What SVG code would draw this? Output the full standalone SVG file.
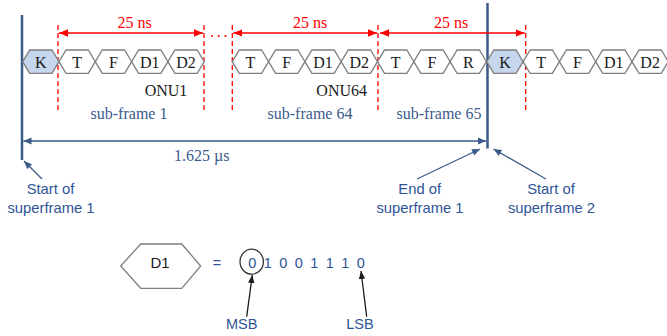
<svg xmlns="http://www.w3.org/2000/svg" xmlns:xlink="http://www.w3.org/1999/xlink" width="667" height="336" viewBox="0 0 667 336">
<defs>
<style>
.hx{fill:#ffffff;stroke:#7f7f7f;stroke-width:1.3}
.hk{fill:#c6d6ec;stroke:#7f7f7f;stroke-width:1.3}
.lb{font-family:"Liberation Serif","Times New Roman",serif;font-size:16px;fill:#1a1a1a;text-anchor:middle}
.red{font-family:"Liberation Serif","Times New Roman",serif;font-size:16px;fill:#ff0000;text-anchor:middle}
.sf{font-family:"Liberation Serif","Times New Roman",serif;font-size:16px;fill:#3b5b8c;text-anchor:middle}
.ann{font-family:"Liberation Sans",Arial,sans-serif;font-size:14.8px;fill:#2f5597;text-anchor:middle}
.bit{font-family:"Liberation Sans",Arial,sans-serif;font-size:14.5px;fill:#2f5597}
.dash{stroke:#ff0000;stroke-width:1.3;stroke-dasharray:5 3;fill:none}
.rarr{stroke:#ff0000;stroke-width:1.4;fill:none}
.barr{stroke:#3a5a88;stroke-width:1.3;fill:none}
.bbar{stroke:#3a5a88;stroke-width:2.5;fill:none}
.karr{stroke:#1a1a1a;stroke-width:1.3;fill:none}
</style>
<polygon id="hex" points="-18.15,0 -11.15,-11.7 11.15,-11.7 18.15,0 11.15,11.7 -11.15,11.7"/>
<marker id="mr" markerUnits="userSpaceOnUse" markerWidth="10" markerHeight="8" refX="9" refY="4" orient="auto-start-reverse"><path d="M0,0.3 L9,4 L0,7.7 z" fill="#ff0000"/></marker>
<marker id="mb" markerUnits="userSpaceOnUse" markerWidth="10" markerHeight="8" refX="8" refY="4" orient="auto-start-reverse"><path d="M0,0.5 L8,4 L0,7.5 z" fill="#3a5a88"/></marker>
<marker id="mk" markerUnits="userSpaceOnUse" markerWidth="10" markerHeight="8" refX="8" refY="4" orient="auto"><path d="M0,0.8 L8,4 L0,7.2 z" fill="#1a1a1a"/></marker>
</defs>
<rect width="667" height="336" fill="#ffffff"/>

<g id="connectors">
<line class="bbar" x1="22" y1="15" x2="22" y2="160"/>
<line class="bbar" x1="487.5" y1="3" x2="487.5" y2="148.5"/>
<line class="dash" x1="58" y1="25" x2="58" y2="110"/>
<line class="dash" x1="204" y1="25" x2="204" y2="110"/>
<line class="dash" x1="232.3" y1="25" x2="232.3" y2="110"/>
<line class="dash" x1="378" y1="25" x2="378" y2="110"/>
<line class="dash" x1="525.7" y1="25" x2="525.7" y2="110"/>
<line class="rarr" x1="59" y1="33" x2="203" y2="33" marker-start="url(#mr)" marker-end="url(#mr)"/>
<line class="rarr" x1="233.3" y1="33" x2="377" y2="33" marker-start="url(#mr)" marker-end="url(#mr)"/>
<line class="rarr" x1="380" y1="33" x2="524.7" y2="33" marker-start="url(#mr)" marker-end="url(#mr)"/>
<line class="barr" x1="23.5" y1="141" x2="486" y2="141" marker-start="url(#mb)" marker-end="url(#mb)"/>
<line class="barr" x1="42" y1="179" x2="24" y2="161" marker-end="url(#mb)"/>
<line class="barr" x1="417" y1="179" x2="480" y2="149" marker-end="url(#mb)"/>
<line class="barr" x1="546" y1="179" x2="493.5" y2="149" marker-end="url(#mb)"/>
<line class="karr" x1="246.7" y1="316.7" x2="252.3" y2="275" marker-end="url(#mk)"/>
<line class="karr" x1="366.7" y1="316.7" x2="361" y2="271" marker-end="url(#mk)"/>
</g>

<g id="frame-row">
<g id="k1"><use xlink:href="#hex" class="hk" x="40.85" y="61.7"/><text class="lb" x="40.85" y="67.5">K</text></g>
<g id="t1"><use xlink:href="#hex" class="hx" x="77.15" y="61.7"/><text class="lb" x="77.15" y="67.5">T</text></g>
<g id="f1"><use xlink:href="#hex" class="hx" x="113.45" y="61.7"/><text class="lb" x="113.45" y="67.5">F</text></g>
<g id="d1a"><use xlink:href="#hex" class="hx" x="149.75" y="61.7"/><text class="lb" x="149.75" y="67.5">D1</text></g>
<g id="d2a"><use xlink:href="#hex" class="hx" x="186.05" y="61.7"/><text class="lb" x="186.05" y="67.5">D2</text></g>
<g id="t64"><use xlink:href="#hex" class="hx" x="250.45" y="61.7"/><text class="lb" x="250.45" y="67.5">T</text></g>
<g id="f64"><use xlink:href="#hex" class="hx" x="286.75" y="61.7"/><text class="lb" x="286.75" y="67.5">F</text></g>
<g id="d1b"><use xlink:href="#hex" class="hx" x="323.05" y="61.7"/><text class="lb" x="323.05" y="67.5">D1</text></g>
<g id="d2b"><use xlink:href="#hex" class="hx" x="359.35" y="61.7"/><text class="lb" x="359.35" y="67.5">D2</text></g>
<g id="t65"><use xlink:href="#hex" class="hx" x="395.65" y="61.7"/><text class="lb" x="395.65" y="67.5">T</text></g>
<g id="f65"><use xlink:href="#hex" class="hx" x="431.95" y="61.7"/><text class="lb" x="431.95" y="67.5">F</text></g>
<g id="r65"><use xlink:href="#hex" class="hx" x="468.25" y="61.7"/><text class="lb" x="468.25" y="67.5">R</text></g>
<g id="k2"><use xlink:href="#hex" class="hk" x="504.95" y="61.7"/><text class="lb" x="504.95" y="67.5">K</text></g>
<g id="t2"><use xlink:href="#hex" class="hx" x="541.25" y="61.7"/><text class="lb" x="541.25" y="67.5">T</text></g>
<g id="f2"><use xlink:href="#hex" class="hx" x="577.55" y="61.7"/><text class="lb" x="577.55" y="67.5">F</text></g>
<g id="d1c"><use xlink:href="#hex" class="hx" x="613.85" y="61.7"/><text class="lb" x="613.85" y="67.5">D1</text></g>
<g id="d2c"><use xlink:href="#hex" class="hx" x="650.15" y="61.7"/><text class="lb" x="650.15" y="67.5">D2</text></g>
</g>

<g id="labels">
<text class="red" x="134.5" y="28">25 ns</text>
<text class="red" x="310" y="28">25 ns</text>
<text class="red" x="451" y="28">25 ns</text>
<text class="red" x="210" y="37" style="text-anchor:start" letter-spacing="2.7">...</text>
<text class="lb" x="166" y="95.5">ONU1</text>
<text class="lb" x="341.7" y="95.5">ONU64</text>
<text class="sf" x="129" y="118.5">sub-frame 1</text>
<text class="sf" x="310" y="118.5">sub-frame 64</text>
<text class="sf" x="439" y="118.5">sub-frame 65</text>
<text class="sf" x="201.7" y="161">1.625 µs</text>
<text class="ann" x="50.5" y="193.5">Start of</text>
<text class="ann" x="51" y="213">superframe 1</text>
<text class="ann" x="419.7" y="193.5">End of</text>
<text class="ann" x="420" y="213">superframe 1</text>
<text class="ann" x="551" y="193.5">Start of</text>
<text class="ann" x="551.5" y="213">superframe 2</text>
</g>

<g id="d1-detail">
<polygon class="hx" points="120.7,266 140.7,244 181.7,244 200.7,266 181.7,288.3 140.7,288.3"/>
<text x="160" y="267.5" style="font-family:'Liberation Sans',Arial,sans-serif;font-size:15px;fill:#1a1a1a;text-anchor:middle">D1</text>
<text class="bit" x="217" y="267.5" style="text-anchor:middle">=</text>
<ellipse cx="251.7" cy="261.7" rx="11.7" ry="12.5" fill="none" stroke="#333333" stroke-width="1.3"/>
<text class="bit" x="248.3" y="267.5" word-spacing="3.4">0 1 0 0 1 1 1 0</text>
<text class="bit" x="241.7" y="329" style="text-anchor:middle">MSB</text>
<text class="bit" x="360" y="329" style="text-anchor:middle">LSB</text>
</g>
</svg>
